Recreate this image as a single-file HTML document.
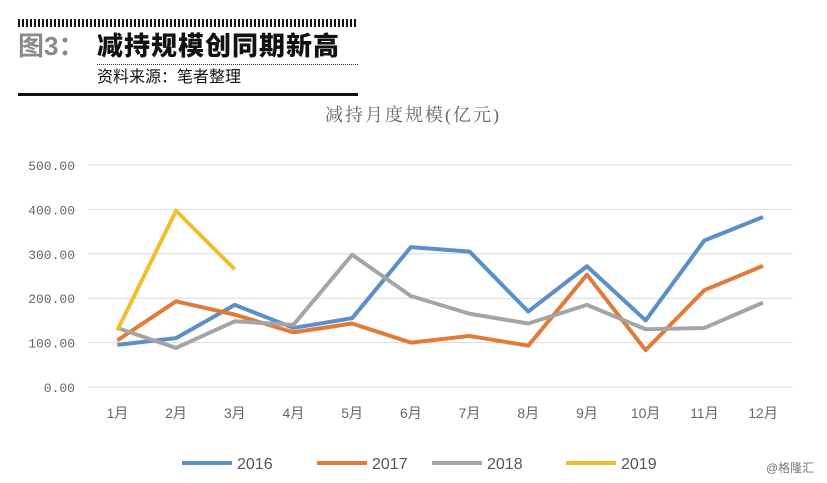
<!DOCTYPE html>
<html><head><meta charset="utf-8"><style>
body{margin:0;width:827px;height:483px;background:#fff;overflow:hidden;position:relative;font-family:"Liberation Sans","Noto Sans CJK SC",sans-serif}
.abs{position:absolute}
</style></head><body>
<div class="abs" style="left:18px;top:19px;width:340px;height:8px;background:repeating-linear-gradient(90deg,#111 0 2px,#fff 2px 4px)"></div>
<div class="abs" style="left:18px;top:30px;font-size:26px;font-weight:bold;color:#8a8a8a;line-height:32px">图3：</div>
<div class="abs" style="left:97px;top:30px;font-size:26px;font-weight:900;color:#111;line-height:32px;letter-spacing:1px">减持规模创同期新高</div>
<div class="abs" style="left:97px;top:64px;width:261px;border-top:1px dotted #333"></div>
<div class="abs" style="left:97px;top:67px;font-size:16px;color:#111;line-height:22px">资料来源：笔者整理</div>
<div class="abs" style="left:18px;top:93px;width:340px;height:3px;background:#111"></div>
<svg class="abs" style="left:0;top:0" width="827" height="483" id="chart"></svg>
<div class="abs" style="left:766px;top:459px;font-size:12px;color:#777">@格隆汇</div>
<script>
const categories=["1月","2月","3月","4月","5月","6月","7月","8月","9月","10月","11月","12月"];
const seriesNames=["2016","2017","2018","2019"];
const s2016=[95,110,185,133,155,315,305,170,272,150,330,383];
const s2017=[105,193,163,123,143,100,115,93,253,83,218,273];
const s2018=[133,88,148,140,298,205,165,143,185,130,133,190];
const s2019=[128,397,265];
const yTicks=[0,100,200,300,400,500];
const yTickLabels=["0.00","100.00","200.00","300.00","400.00","500.00"];
const colors=["#5b8fc7","#e07b39","#a5a5a5","#f2be2f"];
const NS="http://www.w3.org/2000/svg";
const svg=document.getElementById('chart');
const x0=88,bw=58.7,yBase=387,pxPer=0.444;
function xS(i){return x0+bw*(i+0.5);}
function yS(v){return yBase-v*pxPer;}
function mk(t,a){const e=document.createElementNS(NS,t);for(const k in a)e.setAttribute(k,a[k]);svg.appendChild(e);return e;}
const tt=mk('text',{x:413,y:121,'text-anchor':'middle','font-size':18,fill:'#666','font-family':'"Liberation Serif","Noto Serif CJK SC",serif','letter-spacing':'2'});
tt.textContent="减持月度规模(亿元)";


yTicks.forEach((v,i)=>{
  const l=mk('line',{x1:x0,x2:x0+bw*12,y1:yS(v),y2:yS(v),stroke:'#d9d9d9','stroke-width':1});
  
  
  const t=mk('text',{x:75,y:yS(v)+5,'text-anchor':'end','font-size':13,fill:'#666','font-family':'"Liberation Mono",monospace'});
  t.textContent=yTickLabels[i];
  
  
});
categories.forEach((c,i)=>{
  const t=mk('text',{x:xS(i),y:418,'text-anchor':'middle','font-size':14,fill:'#666','font-family':'"Liberation Sans","Noto Sans CJK SC",sans-serif'});
  t.textContent=c;
  
  
});
[s2016,s2017,s2018,s2019].forEach((s,k)=>{
  const p=mk('polyline',{points:s.map((v,i)=>xS(i)+','+yS(v)).join(' '),fill:'none',stroke:colors[k],'stroke-width':4,'stroke-linejoin':'round'});
  
  
});
const lx=[182,317,432,566];
seriesNames.forEach((n,k)=>{
  const l=mk('line',{x1:lx[k],x2:lx[k]+50,y1:463,y2:463,stroke:colors[k],'stroke-width':4});
  
  
  const t=mk('text',{x:lx[k]+55,y:469,'font-size':16,fill:'#555'});
  t.textContent=n;
  
  
});
</script>
</body></html>
